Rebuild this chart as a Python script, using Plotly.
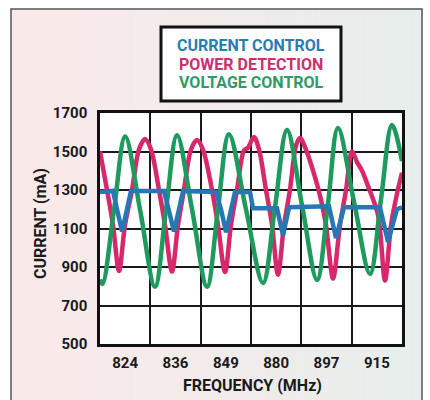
import plotly.graph_objects as go

# ---------------- data (sweep position 0..300, 50 per band) ----------------
band_labels = ["824", "836", "849", "880", "897", "915"]
band_centers = [25, 75, 125, 175, 225, 275]
band_edges = [50, 100, 150, 200, 250]
y_ticks = [500, 700, 900, 1100, 1300, 1500, 1700]

voltage_x = [0, 2.5, 14, 25, 39.7, 54.6, 65.6, 76.5, 91.4, 106.3, 117.2, 128.1, 145,
             161.9, 173.8, 185.8, 200.7, 215.6, 226.5, 236.4, 252.3, 268.2, 279.1, 290.1, 300]
voltage_y = [835, 812, 1200, 1578, 1200, 798, 1200, 1585, 1200, 798, 1200, 1590, 1200,
             817, 1210, 1612, 1220, 833, 1230, 1622, 1240, 864, 1250, 1638, 1450]

power_x = [0, 7, 12.9, 18.9, 24.8, 31.8, 38.7, 44.7, 50.7, 58.6, 64.6, 71.5, 77.5, 83.4,
           90.4, 96.4, 102.3, 111.3, 117.2, 124.2, 130.1, 136.1, 143, 147, 153, 158, 164.9,
           170.9, 176.8, 182.8, 188.7, 194.7, 198.7, 204.6, 213.6, 219.5, 224.5, 231.5,
           238.4, 244.4, 250.3, 255.3, 260.3, 266.3, 276.2, 283.1, 289.1, 295, 300]
power_y = [1500, 1300, 1118, 879, 1118, 1300, 1510, 1565, 1510, 1300, 1118, 876, 1118, 1300,
           1510, 1560, 1510, 1300, 1118, 874, 1118, 1300, 1505, 1520, 1575, 1510, 1300,
           1118, 860, 1118, 1300, 1530, 1570, 1510, 1367, 1250, 1118, 840,
           1118, 1300, 1500, 1445, 1400, 1320, 1170, 830, 1118, 1280, 1390]

current_x = [0, 12.9, 16.9, 21.9, 26.8, 30.8, 63.6, 68.5, 73.5, 78.5, 82.5, 115.2, 120.2,
             125.2, 130.1, 134.1, 149, 152, 175.8, 181.8, 187.8, 227.5, 234.4, 242.4,
             278.1, 286.1, 295, 300]
current_y = [1290, 1295, 1200, 1085, 1200, 1295, 1295, 1200, 1085, 1200, 1295, 1290, 1200,
             1080, 1200, 1290, 1290, 1205, 1205, 1065, 1210, 1215, 1050, 1210,
             1210, 1030, 1200, 1210]

series_names = ["CURRENT CONTROL", "POWER DETECTION", "VOLTAGE CONTROL"]
line_colors = ["#2877b5", "#d6286a", "#1f9a5e"]
text_colors = ["#2a7db0", "#cc2f6e", "#2f9a66"]

# ---------------- layout helpers ----------------
W, H = 430, 400
L, R, T, B = 100, 402, 113, 344
PW, PH = R - L, B - T


def px(p):
    return (p - L) / PW


def py(p):
    return (B - p) / PH


FONT = "Roboto, Liberation Sans, sans-serif"
INK = "#1a1a1a"

fig = go.Figure()
fig.add_trace(go.Scatter(x=power_x, y=power_y, mode="lines", name=series_names[1],
                         line=dict(color=line_colors[1], width=4.5, shape="spline", smoothing=0.9)))
fig.add_trace(go.Scatter(x=voltage_x, y=voltage_y, mode="lines", name=series_names[2],
                         line=dict(color=line_colors[2], width=4.5, shape="spline", smoothing=1.0)))
fig.add_trace(go.Scatter(x=current_x, y=current_y, mode="lines", name=series_names[0],
                         line=dict(color=line_colors[0], width=4.5)))

shapes = []
# gradient background strips
n = 60
x0, x1 = 11, 422
c0, c1 = (251, 233, 233), (231, 238, 236)
for i in range(n):
    a = x0 + (x1 - x0) * i / n
    b = x0 + (x1 - x0) * (i + 1) / n + 0.5
    t = (i + 0.5) / n
    col = tuple(round(c0[k] + (c1[k] - c0[k]) * t) for k in range(3))
    shapes.append(dict(type="rect", xref="paper", yref="paper", x0=px(a), x1=px(min(b, x1)),
                       y0=py(402), y1=py(9), fillcolor="rgb(%d,%d,%d)" % col,
                       line=dict(width=0), layer="below"))
# plot area white
shapes.append(dict(type="rect", xref="paper", yref="paper", x0=0, x1=1, y0=0, y1=1,
                   fillcolor="white", line=dict(width=0), layer="below"))
# outer frame
shapes.append(dict(type="rect", xref="paper", yref="paper", x0=px(11), x1=px(422),
                   y0=py(402), y1=py(9), fillcolor="rgba(0,0,0,0)",
                   line=dict(color="#555", width=1.5), layer="below"))
# legend box
shapes.append(dict(type="rect", xref="paper", yref="paper", x0=px(161), x1=px(341),
                   y0=py(101), y1=py(27), fillcolor="white",
                   line=dict(color="#111", width=3), layer="below"))

annotations = []
for name, col, yy in zip(series_names, text_colors, [45.5, 64.5, 83]):
    annotations.append(dict(text=name, xref="paper", yref="paper", x=px(251), y=py(yy),
                            xanchor="center", yanchor="middle", showarrow=False,
                            font=dict(family=FONT, size=16, color=col, weight="bold")))
annotations.append(dict(text="CURRENT (mA)", xref="paper", yref="paper", x=px(40), y=py(224),
                        xanchor="center", yanchor="middle", showarrow=False, textangle=-90,
                        font=dict(family=FONT, size=16, color=INK, weight="bold")))
annotations.append(dict(text="FREQUENCY (MHz)", xref="paper", yref="paper", x=px(252), y=py(385),
                        xanchor="center", yanchor="middle", showarrow=False,
                        font=dict(family=FONT, size=16, color=INK, weight="bold")))

fig.update_layout(
    width=W, height=H,
    margin=dict(l=L, r=W - R, t=T, b=H - B, pad=0),
    paper_bgcolor="white", plot_bgcolor="white",
    showlegend=False,
    shapes=shapes, annotations=annotations,
    xaxis=dict(range=[0, 300], tickvals=band_centers, ticktext=band_labels,
               showgrid=False, zeroline=False, ticks="", ticklabelstandoff=3,
               tickfont=dict(family=FONT, size=15, color=INK, weight="bold"),
               showline=True, mirror=True, linecolor="#111", linewidth=2.5,
               minor=dict(tickvals=band_edges, showgrid=True, gridcolor=INK,
                          gridwidth=2, ticks="")),
    yaxis=dict(range=[500, 1700], tickvals=y_ticks, showgrid=True, gridcolor=INK,
               gridwidth=2, zeroline=False, ticks="", ticklabelstandoff=7,
               tickfont=dict(family=FONT, size=15, color=INK, weight="bold"),
               showline=True, mirror=True, linecolor="#111", linewidth=2.5),
)

fig.write_html("out.html", config={"displayModeBar": False},
               post_script="document.body.style.margin='0';"
                           "document.documentElement.style.overflow='hidden';")
